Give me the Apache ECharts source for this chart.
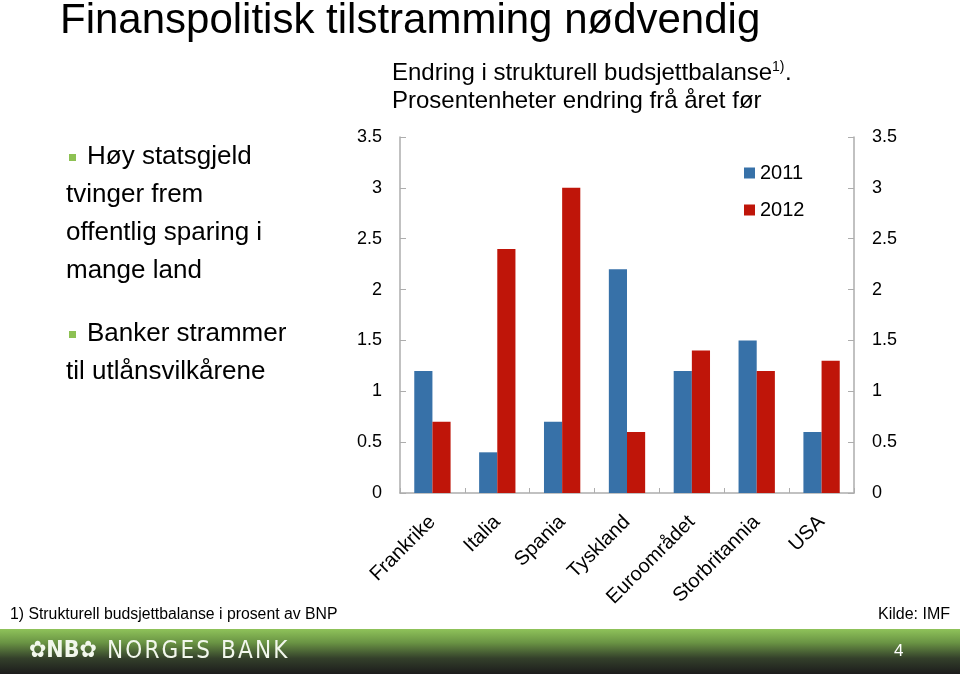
<!DOCTYPE html>
<html><head><meta charset="utf-8">
<script src="https://cdn.jsdelivr.net/npm/echarts@6/dist/echarts.min.js"></script>
<style>html,body{margin:0;padding:0;background:#fff}#c{width:960px;height:674px}</style>
</head><body><div id="c"></div>
<script>
const categories = ['Frankrike','Italia','Spania','Tyskland','Euroområdet','Storbritannia','USA'];
const values2011 = [1.2, 0.4, 0.7, 2.2, 1.2, 1.5, 0.6];
const values2012 = [0.7, 2.4, 3.0, 0.6, 1.4, 1.2, 1.3];
const yTicks = [0, 0.5, 1, 1.5, 2, 2.5, 3, 3.5];

const FONT = '"Liberation Sans", Arial, sans-serif';
const chart = echarts.init(document.getElementById('c'), null, {renderer:'canvas'});
const axisCol = '#adadad';
const yAx = (pos) => ({
  type:'value', position: pos, min: yTicks[0], max: yTicks[yTicks.length-1], interval: 0.5,
  axisLine:{show:true, lineStyle:{color:axisCol, width:1.5}},
  axisTick:{show:true, inside:true, length:6, lineStyle:{color:axisCol}},
  splitLine:{show:false},
  axisLabel:{color:'#000', fontSize:18, fontFamily:FONT, margin:18}
});
const T = (left, top, text, size, extra) => Object.assign({type:'text', left, top, style:{text, font:size+'px '+FONT, fill:'#000'}}, extra||{});
chart.setOption({
  animation:false,
  textStyle:{fontFamily:FONT},
  grid:{left:400, right:106, top:137, bottom:181, containLabel:false},
  legend:{orient:'vertical', left:739, top:158, itemWidth:11, itemHeight:11, itemGap:17, icon:'rect',
    textStyle:{fontSize:20, color:'#000', fontFamily:FONT}, data:['2011','2012']},
  xAxis:{type:'category', data:categories,
    axisLine:{lineStyle:{color:axisCol, width:1.5}},
    axisTick:{show:true, inside:true, length:5, lineStyle:{color:axisCol}},
    axisLabel:{rotate:45, fontSize:20, color:'#000', fontFamily:FONT, margin:26, interval:0}},
  yAxis:[yAx('left'), yAx('right')],
  series:[
    {name:'2011', type:'bar', data:values2011, itemStyle:{color:'#3771a8'}, barGap:'0%', barCategoryGap:'44%'},
    {name:'2012', type:'bar', data:values2012, itemStyle:{color:'#bf1509'}, barGap:'0%', barCategoryGap:'44%'}
  ],
  graphic:[
    T(60, 0, 'Finanspolitisk tilstramming nødvendig', 42),
    T(392, 61, 'Endring i strukturell budsjettbalanse', 24),
    T(772, 60, '1)', 14),
    T(785, 61, '.', 24),
    T(392, 89, 'Prosentenheter endring frå året før', 24),
    {type:'rect', shape:{x:69, y:154, width:7, height:7}, style:{fill:'#8dc153'}},
    T(87, 144, 'Høy statsgjeld', 26),
    T(66, 182, 'tvinger frem', 26),
    T(66, 220, 'offentlig sparing i', 26),
    T(66, 258, 'mange land', 26),
    {type:'rect', shape:{x:69, y:331, width:7, height:7}, style:{fill:'#8dc153'}},
    T(87, 321, 'Banker strammer', 26),
    T(66, 359, 'til utlånsvilkårene', 26),
    T(10, 607, '1) Strukturell budsjettbalanse i prosent av BNP', 15.8),
    {type:'text', right:10, top:607, style:{text:'Kilde: IMF', font:'16px '+FONT, fill:'#000'}},
    {type:'rect', shape:{x:0, y:629, width:960, height:45}, style:{fill:new echarts.graphic.LinearGradient(0,0,0,1,[
      {offset:0, color:'#8fc35a'},{offset:0.3, color:'#6a9444'},{offset:0.65, color:'#34402b'},{offset:1, color:'#1c1c1c'}])}},
    {type:'text', left:29, top:640, style:{text:'✿NB✿', font:'bold 23px "DejaVu Sans Condensed", '+FONT, fill:'#f2f7ec'}},
    {type:'text', left:107, top:640, style:{text:'NORGES BANK'.split('').join('\u200A'), font:'24px "DejaVu Sans Condensed", '+FONT, fill:'#f2f7ec'}},
    {type:'text', left:894, top:643, style:{text:'4', font:'17px '+FONT, fill:'#fff'}}
  ]
});
</script></body></html>
